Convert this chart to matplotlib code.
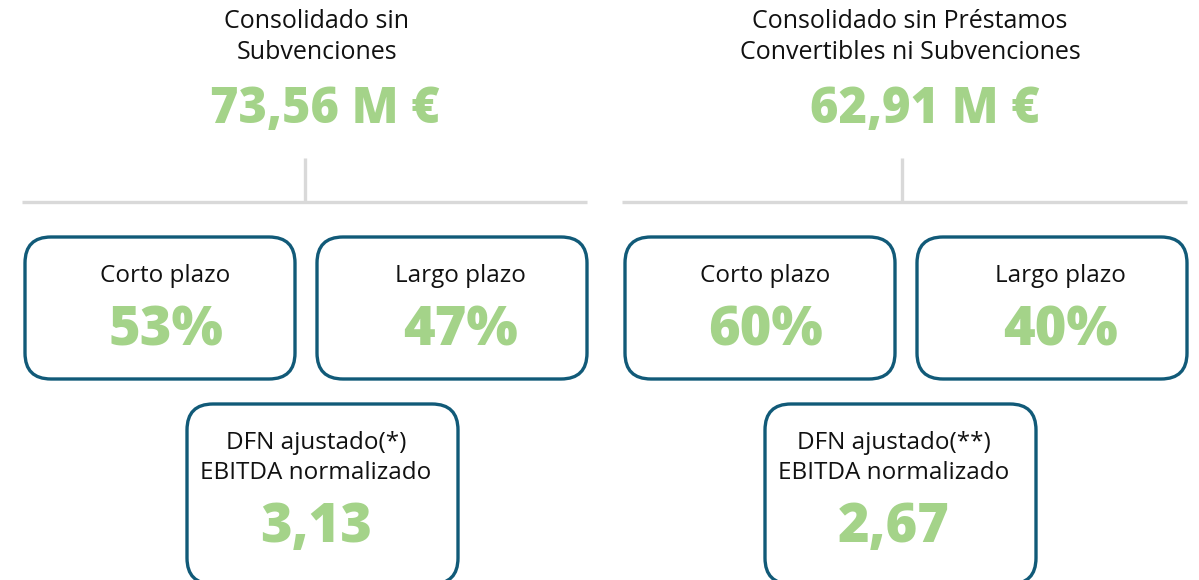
import matplotlib.pyplot as plt
from matplotlib.patches import FancyBboxPatch

# panel data
titles = ["Consolidado sin\nSubvenciones",
          "Consolidado sin Préstamos\nConvertibles ni Subvenciones"]
totals = ["73,56 M €", "62,91 M €"]
short_term = ["53%", "60%"]
long_term = ["47%", "40%"]
dfn_labels = ["DFN ajustado(*)\nEBITDA normalizado",
              "DFN ajustado(**)\nEBITDA normalizado"]
dfn_values = ["3,13", "2,67"]

green = "#a4d389"
blue = "#115a78"
grey = "#d9d9d9"
font = ["Open Sans", "DejaVu Sans"]

fig = plt.figure(figsize=(11.99, 5.8), dpi=100)
ax = fig.add_axes([0, 0, 1, 1])
ax.set_xlim(0, 1199)
ax.set_ylim(580, 0)
ax.axis("off")


def box(x0, y0, x1, y1):
    p = FancyBboxPatch((x0, y0), x1 - x0, y1 - y0,
                       boxstyle="round,pad=0,rounding_size=26",
                       fc="white", ec=blue, lw=2.4, clip_on=True)
    ax.add_patch(p)


offsets = [0, 600]
title_x = [317, 910]
total_x = [325, 925]
stem_x = [305, 902]

for i, dx in enumerate(offsets):
    ax.text(title_x[i], 37, titles[i], ha="center", va="center",
            fontsize=18, family=font, linespacing=1.3, color="#111111")
    ax.text(total_x[i], 110, totals[i], ha="center", va="center",
            fontsize=35, fontweight=800, color=green, family=font)

    # connector lines
    ax.plot([stem_x[i], stem_x[i]], [158, 202], color=grey, lw=2.4,
            solid_capstyle="butt")
    ax.plot([22 + dx, 587 + dx], [202, 202], color=grey, lw=2.4,
            solid_capstyle="butt")

    # short / long term boxes
    box(25 + dx, 237, 295 + dx, 379)
    box(317 + dx, 237, 587 + dx, 379)
    ax.text(165 + dx, 276, "Corto plazo", ha="center", va="center",
            fontsize=17.5, family=font, color="#111111")
    ax.text(166 + dx, 331, short_term[i], ha="center", va="center",
            fontsize=39, fontweight=800, family=font, color=green)
    ax.text(460 + dx, 276, "Largo plazo", ha="center", va="center",
            fontsize=17.5, family=font, color="#111111")
    ax.text(461 + dx, 331, long_term[i], ha="center", va="center",
            fontsize=39, fontweight=800, family=font, color=green)

    # DFN / EBITDA box
    bx = [187, 765][i]
    box(bx, 404, bx + 271, 584)
    ax.text(bx + 129, 458, dfn_labels[i], ha="center", va="center",
            fontsize=17.5, family=font, linespacing=1.3, color="#111111")
    ax.text(bx + 129, 527, dfn_values[i], ha="center", va="center",
            fontsize=39, fontweight=800, family=font, color=green)

fig.savefig("out.png", dpi=100)
